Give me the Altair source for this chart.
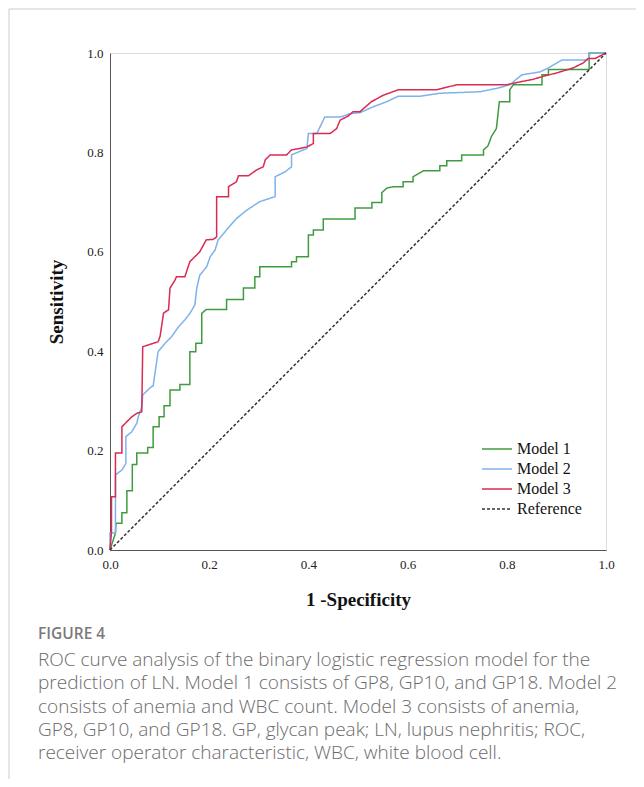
import altair as alt
import pandas as pd

# ---------------- data ----------------
series_names = ["Model 1", "Model 2", "Model 3", "Reference"]
series_colors = ["#3f9b3f", "#7fb1ea", "#d92a52", "#333333"]

m1_fpr = [0, 0.011, 0.012, 0.024, 0.024, 0.034, 0.034, 0.045, 0.045, 0.054, 0.054, 0.076, 0.076,
          0.087, 0.087, 0.099, 0.099, 0.109, 0.109, 0.121, 0.121, 0.141, 0.141, 0.161, 0.161, 0.173,
          0.173, 0.185, 0.185, 0.194, 0.235, 0.235, 0.269, 0.269, 0.292, 0.292, 0.302, 0.302, 0.366,
          0.366, 0.376, 0.376, 0.400, 0.400, 0.410, 0.410, 0.430, 0.430, 0.494, 0.494, 0.528, 0.528,
          0.548, 0.548, 0.558, 0.571, 0.591, 0.591, 0.611, 0.611, 0.632, 0.665, 0.665, 0.679, 0.679,
          0.709, 0.709, 0.753, 0.753, 0.762, 0.769, 0.779, 0.785, 0.806, 0.806, 0.813, 0.871, 0.871,
          0.884, 0.884, 0.966, 0.966, 1.0]
m1_tpr = [0, 0.034, 0.054, 0.054, 0.075, 0.075, 0.119, 0.119, 0.172, 0.172, 0.195, 0.195, 0.206,
          0.206, 0.248, 0.248, 0.268, 0.268, 0.290, 0.290, 0.322, 0.322, 0.333, 0.333, 0.399, 0.399,
          0.416, 0.416, 0.476, 0.484, 0.484, 0.504, 0.504, 0.527, 0.527, 0.550, 0.550, 0.570, 0.570,
          0.580, 0.580, 0.590, 0.590, 0.634, 0.634, 0.644, 0.644, 0.666, 0.666, 0.688, 0.688, 0.699,
          0.699, 0.719, 0.728, 0.731, 0.731, 0.741, 0.741, 0.751, 0.763, 0.763, 0.773, 0.773, 0.783,
          0.783, 0.795, 0.795, 0.805, 0.813, 0.832, 0.848, 0.902, 0.902, 0.926, 0.936, 0.936, 0.956,
          0.956, 0.967, 0.967, 1.0, 1.0]

m2_fpr = [0, 0, 0.011, 0.011, 0.024, 0.032, 0.032, 0.044, 0.054, 0.057, 0.064, 0.066, 0.084, 0.087,
          0.097, 0.111, 0.124, 0.138, 0.151, 0.161, 0.171, 0.175, 0.181, 0.195, 0.202, 0.212, 0.218,
          0.235, 0.255, 0.276, 0.302, 0.333, 0.333, 0.353, 0.366, 0.366, 0.397, 0.400, 0.417, 0.433,
          0.464, 0.484, 0.504, 0.531, 0.558, 0.581, 0.625, 0.665, 0.746, 0.780, 0.806, 0.830, 0.867,
          0.884, 0.911, 0.964, 0.968, 1.0]
m2_tpr = [0, 0.034, 0.034, 0.151, 0.161, 0.174, 0.228, 0.238, 0.255, 0.268, 0.288, 0.312, 0.329, 0.330,
          0.399, 0.416, 0.429, 0.449, 0.463, 0.476, 0.493, 0.527, 0.553, 0.570, 0.590, 0.604, 0.624,
          0.644, 0.667, 0.684, 0.701, 0.711, 0.751, 0.761, 0.771, 0.795, 0.808, 0.838, 0.838, 0.871,
          0.871, 0.878, 0.880, 0.892, 0.902, 0.913, 0.913, 0.919, 0.922, 0.929, 0.936, 0.956, 0.962,
          0.970, 0.986, 0.986, 1.0, 1.0]

m3_fpr = [0, 0.003, 0.003, 0.011, 0.011, 0.024, 0.024, 0.034, 0.044, 0.054, 0.064, 0.066, 0.097, 0.101,
          0.108, 0.118, 0.121, 0.131, 0.134, 0.151, 0.161, 0.171, 0.181, 0.194, 0.208, 0.215, 0.215,
          0.239, 0.239, 0.255, 0.259, 0.279, 0.296, 0.309, 0.313, 0.323, 0.356, 0.366, 0.383, 0.397,
          0.410, 0.410, 0.444, 0.457, 0.464, 0.480, 0.490, 0.504, 0.527, 0.551, 0.581, 0.658, 0.699,
          0.800, 0.827, 0.853, 0.873, 0.901, 0.934, 0.954, 0.964, 0.978, 1.0]
m3_tpr = [0, 0.036, 0.107, 0.107, 0.195, 0.195, 0.248, 0.258, 0.268, 0.275, 0.278, 0.409, 0.419, 0.430,
          0.477, 0.483, 0.527, 0.543, 0.550, 0.550, 0.580, 0.590, 0.600, 0.624, 0.625, 0.630, 0.711,
          0.711, 0.731, 0.741, 0.753, 0.753, 0.765, 0.771, 0.785, 0.795, 0.795, 0.805, 0.808, 0.811,
          0.818, 0.838, 0.838, 0.848, 0.865, 0.873, 0.882, 0.882, 0.902, 0.915, 0.926, 0.926, 0.936,
          0.936, 0.942, 0.947, 0.953, 0.960, 0.970, 0.980, 0.989, 0.989, 1.0]

ref_fpr = [0.0, 1.0]
ref_tpr = [0.0, 1.0]

tick_values = [0.0, 0.2, 0.4, 0.6, 0.8, 1.0]

x_title = "1 -Specificity"
y_title = "Sensitivity"
fig_label = "FIGURE 4"
caption_lines = [
    "ROC curve analysis of the binary logistic regression model for the",
    "prediction of LN. Model 1 consists of GP8, GP10, and GP18. Model 2",
    "consists of anemia and WBC count. Model 3 consists of anemia,",
    "GP8, GP10, and GP18. GP, glycan peak; LN, lupus nephritis; ROC,",
    "receiver operator characteristic, WBC, white blood cell.",
]

# ---------------- build table ----------------
rows = []
for name, xs, ys in [("Model 1", m1_fpr, m1_tpr), ("Model 2", m2_fpr, m2_tpr),
                     ("Model 3", m3_fpr, m3_tpr), ("Reference", ref_fpr, ref_tpr)]:
    for i, (a, b) in enumerate(zip(xs, ys)):
        rows.append({"series": name, "idx": i, "fpr": a, "tpr": b})
df = pd.DataFrame(rows)

SERIF = "Liberation Serif"

lines = alt.Chart(df).mark_line(strokeWidth=1.5).encode(
    x=alt.X("fpr:Q", scale=alt.Scale(domain=[0, 1], nice=False, zero=False),
            axis=alt.Axis(values=tick_values, format=".1f", grid=False, ticks=False,
                          domainColor="#555555", labelFont=SERIF, labelFontSize=13,
                          labelColor="#222222", labelPadding=8, labelFlush=False,
                          labelOverlap=False, title=x_title, titleFont=SERIF,
                          titleFontWeight="bold", titleFontSize=19, titleColor="#111111",
                          titlePadding=19)),
    y=alt.Y("tpr:Q", scale=alt.Scale(domain=[0, 1], nice=False, zero=False),
            axis=alt.Axis(values=tick_values, format=".1f", grid=False, ticks=False,
                          domainColor="#555555", labelFont=SERIF, labelFontSize=13,
                          labelColor="#222222", labelPadding=7, labelFlush=False,
                          labelOverlap=False, title=y_title, titleFont=SERIF,
                          titleFontWeight="bold", titleFontSize=19, titleColor="#111111",
                          titlePadding=20)),
    color=alt.Color("series:N", scale=alt.Scale(domain=series_names, range=series_colors),
                    legend=alt.Legend(title=None, orient="none", legendX=371, legendY=386,
                                      symbolType="stroke", symbolSize=900, symbolStrokeWidth=1.5,
                                      labelFont=SERIF, labelFontSize=16, labelColor="#111111",
                                      labelOffset=4, padding=0, rowPadding=0, clipHeight=20)),
    strokeDash=alt.StrokeDash("series:N",
                              scale=alt.Scale(domain=series_names,
                                              range=[[1, 0], [1, 0], [1, 0], [3, 2]]),
                              legend=alt.Legend(title=None)),
    detail="series:N",
    order=alt.Order("idx:Q"),
)

one = pd.DataFrame({"k": [0]})
frame_top = alt.Chart(one).mark_rule(color="#cccccc", strokeWidth=1).encode(
    x=alt.value(-101), x2=alt.value(530), y=alt.value(-44))
frame_left = alt.Chart(one).mark_rule(color="#cccccc", strokeWidth=1).encode(
    x=alt.value(-101), y=alt.value(-44), y2=alt.value(740))

fig_text = alt.Chart(pd.DataFrame({"t": [fig_label]})).mark_text(
    align="left", baseline="top", font="Open Sans", fontSize=15.5, fontWeight=600,
    color="#7a7a7a").encode(text="t:N", x=alt.value(-72), y=alt.value(574))

cap_text = alt.Chart(pd.DataFrame({"t": ["\n".join(caption_lines)]})).mark_text(
    align="left", baseline="top", font="Open Sans", fontSize=19, fontWeight=300,
    color="#6b6b6b", lineBreak="\n", lineHeight=23.3).encode(
    text="t:N", x=alt.value(-72), y=alt.value(598))

chart = alt.layer(frame_top, frame_left, lines, fig_text, cap_text).properties(
    width=496, height=497,
    autosize=alt.AutoSizeParams(type="none"),
    padding={"left": 102, "top": 45, "right": 30, "bottom": 229},
).configure_view(stroke=None).configure(background="white")

chart.save("out.html", embed_options={"renderer": "svg", "actions": False})
